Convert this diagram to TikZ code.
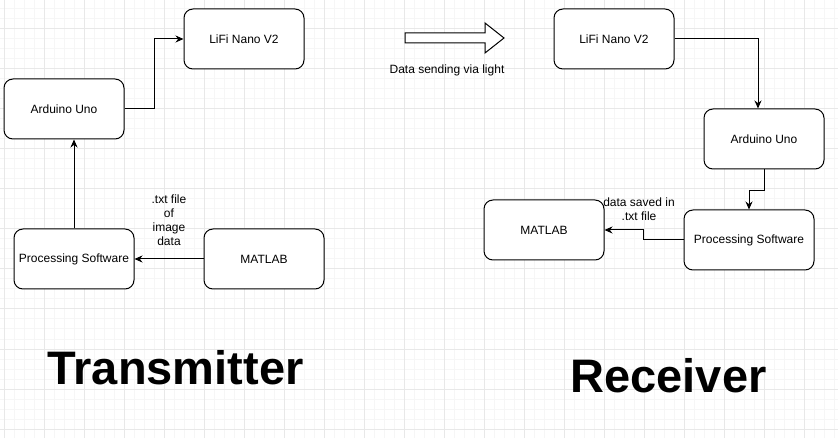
\documentclass[tikz,border=0pt]{standalone}
\usepackage{fontspec}
\setmainfont{Liberation Sans}
\usepackage{tikz}
\usetikzlibrary{positioning}
\usetikzlibrary{arrows.meta}
\definecolor{gridminor}{HTML}{F6F6F6}
\definecolor{gridmajor}{HTML}{E8E8E8}
\tikzset{
        block/.style={
          draw, line width=1pt, rounded corners=9pt, fill=white,
          minimum width=120pt, minimum height=60pt, inner sep=0pt,
          font=\fontsize{12}{14}\selectfont
          },
        wire/.style={line width=1pt, -{Stealth[length=8pt, width=7pt]}},
        note/.style={align=center, inner sep=0pt, font=\fontsize{12}{14}\selectfont},
        title/.style={anchor=base, inner sep=0pt, font=\fontsize{47}{50}\selectfont\bfseries},
}
\begin{document}
\begin{tikzpicture}[x=1pt, y=-1pt]
      \useasboundingbox (0,0) rectangle (838,438);
      \fill[white] (0,0) rectangle (838,438);
      % background grid
      \foreach \gx in {4,14,...,834} \draw[gridminor, line width=1pt] (\gx,0) -- (\gx,438);
      \foreach \gy in {9,19,...,429} \draw[gridminor, line width=1pt] (0,\gy) -- (838,\gy);
      \foreach \gx in {4,44,...,804} \draw[gridmajor, line width=1pt] (\gx,0) -- (\gx,438);
      \foreach \gy in {29,69,...,429} \draw[gridmajor, line width=1pt] (0,\gy) -- (838,\gy);

      % TRANSMITTER
      \node[block] (lifiT) at (244,39) {LiFi Nano V2};
      \node[block] (arduT) at (64,109) {Arduino Uno};
      \node[block] (procT) at (74,259) {Processing Software};
      \node[block] (matT) at (264,259) {MATLAB};
      \node[note] (txtT) at (169,220) {.txt file\\of\\image\\data};
      \node[title] (titleT) at (175.5,384) {Transmitter};

      % RECEIVER
      \node[block] (lifiR) at (614,39) {LiFi Nano V2};
      \node[block] (arduR) at (764,139) {Arduino Uno};
      \node[block, minimum width=130pt] (procR) at (749,240) {Processing Software};
      \node[block] (matR) at (544,230) {MATLAB};
      \node[note] (txtR) at (639,209) {data saved in\\.txt file};
      \node[title] (titleR) at (668.5,392) {Receiver};

      % light link
      \coordinate (light) at (405,38);
      \draw[line width=1pt, fill=white] (light) ++(0,-5) -- ++(80,0) -- ++(0,-10) -- ++(19,15)
        -- ++(-19,15) -- ++(0,-10) -- ++(-80,0) -- cycle;
      \node[note] (lightlbl) at (447,70) {Data sending via light};

      % WIRING
      % transmitter side
      \draw[wire] (matT.west) -- (procT.east);
      \draw[wire] (procT.north) -- (arduT.south -| procT.north);
      \draw[wire] (arduT.east) -- ++(30,0) |- (lifiT.west);
      % receiver side
      \draw[wire] (lifiR.east) -| ([xshift=-6pt]arduR.north);
      \draw[wire] (arduR.south) -- ++(0,21) -| (procR.north);
      \draw[wire] (procR.west) -- ++(-40,0) |- (matR.east);
\end{tikzpicture}
\end{document}
